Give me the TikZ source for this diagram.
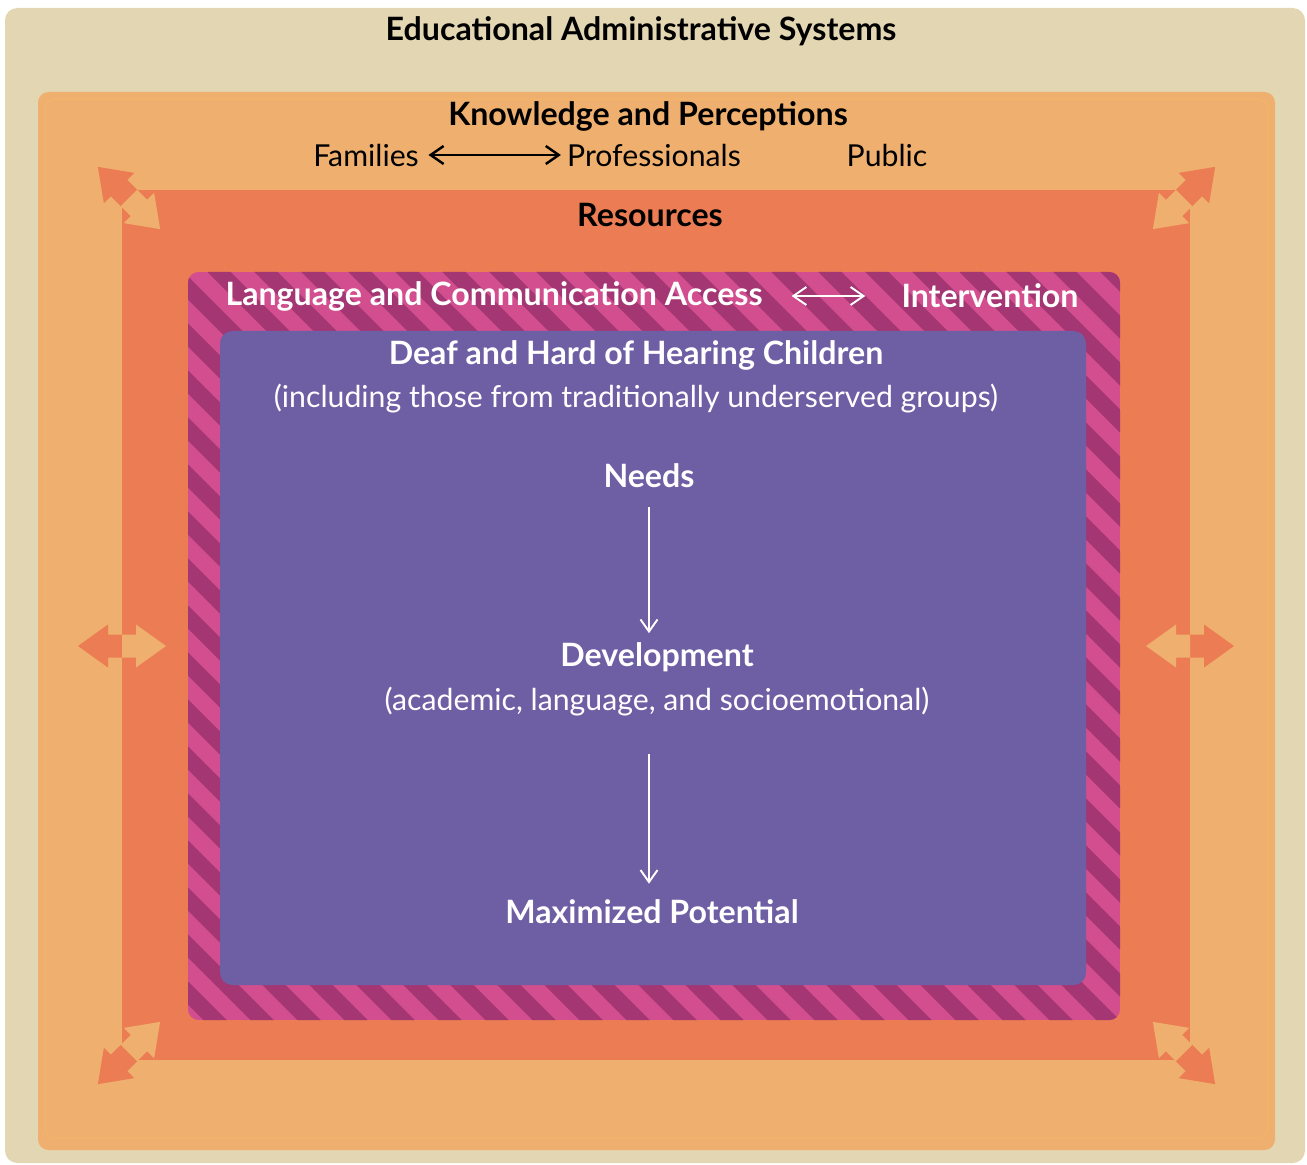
\documentclass[tikz,border=0pt]{standalone}
\usepackage{fontspec}
\setmainfont{Lato}
\usetikzlibrary{arrows.meta, positioning}

\definecolor{sysbeige}{RGB}{227,214,179}
\definecolor{knoworange}{RGB}{239,175,110}
\definecolor{knowline}{RGB}{243,181,106}
\definecolor{resorange}{RGB}{236,124,83}
\definecolor{accesspink}{RGB}{210,78,142}
\definecolor{accessplum}{RGB}{163,54,115}
\definecolor{childpurple}{RGB}{110,94,164}

% fat two-headed arrow: outward half in dark orange, inward half in light orange
\newcommand{\splitarrow}[3]{%
  \begin{scope}[shift={(#1,#2)}, rotate=#3]
    \fill[resorange] (-0.5,-11.5) -- (14,-11.5) -- (14,-21.5) -- (44,0) -- (14,21.5) -- (14,11.5) -- (-0.5,11.5) -- cycle;
    \fill[knoworange] (0,-11.5) -- (-14,-11.5) -- (-14,-21.5) -- (-44,0) -- (-14,21.5) -- (-14,11.5) -- (0,11.5) -- cycle;
  \end{scope}}

\begin{document}
\begin{tikzpicture}[x=0.02cm, y=-0.02cm,
  head/.style={font=\bfseries\fontsize{18.3}{21}\selectfont},
  plain/.style={font=\fontsize{17.2}{20}\selectfont},
  light/.style={text=white},
  thin arrow/.style={line width=1.4pt, {Straight Barb[length=2.6mm,width=3.6mm]}-{Straight Barb[length=2.6mm,width=3.6mm]}},
  down arrow/.style={white, line width=1.1pt, -{Straight Barb[length=2.4mm,width=3.4mm]}}]
\useasboundingbox (0,0) rectangle (1307,1165);

% nested layers
\fill[sysbeige, rounded corners=7pt] (5,8) rectangle (1305,1163);
\fill[knoworange, rounded corners=6pt] (38,92) rectangle (1275,1150);
\draw[knowline, line width=0.6pt, rounded corners=6pt] (45,99) rectangle (1268,1138);
\fill[resorange] (122,190) rectangle (1190,1060);

\begin{scope}
  \clip[rounded corners=6pt] (188,272) rectangle (1120,1020);
  \fill[accesspink] (188,272) rectangle (1120,1020);
  \foreach \s in {0,47,...,1750}
    \draw[accessplum, line width=0.33cm] (\s-590,262) -- ++(800,800);
\end{scope}

\fill[childpurple, rounded corners=7pt] (220,331) rectangle (1086,985);

% arrows through the resources layer
\splitarrow{129}{198}{135}
\splitarrow{1184}{198}{45}
\splitarrow{129}{1053}{225}
\splitarrow{1184}{1053}{-45}
\splitarrow{122}{646}{180}
\splitarrow{1190}{646}{0}

% labels
\node[head] (systems) at (641,31) {Educational Administrative Systems};
\node[head] (knowledge) at (648,116) {Knowledge and Perceptions};
\node[plain] (families) at (366,155) {Families};
\node[plain] (professionals) at (654,155) {Professionals};
\node[plain] (public) at (887,155) {Public};
\node[head] (resources) at (650,215) {Resources};

\node[head, light] (access) at (494,296) {Language and Communication Access};
\node[head, light] (intervention) at (990,296) {Intervention};

\node[head, light] (children) at (636,355) {Deaf and Hard of Hearing Children};
\node[plain, light] (groups) at (636,399) {(including those from traditionally underserved groups)};
\node[head, light] (needs) at (649,476) {Needs};
\node[head, light] (development) at (657,657) {Development};
\node[plain, light] (areas) at (657,702) {(academic, language, and socioemotional)};
\node[head, light] (potential) at (652,912) {Maximized Potential};

% connectors
\draw[thin arrow, shorten <=2pt] (families) -- (professionals);
\draw[thin arrow, white, line width=1.1pt, shorten <=0.46cm, shorten >=0.6cm] (access) -- (intervention);
\draw[down arrow, shorten <=0.26cm, shorten >=0.06cm] (needs.south) -- (needs.south |- development.north);
\draw[down arrow, shorten <=0.62cm, shorten >=0.2cm] (needs.south |- areas.south) -- (needs.south |- potential.north);
\end{tikzpicture}
\end{document}
